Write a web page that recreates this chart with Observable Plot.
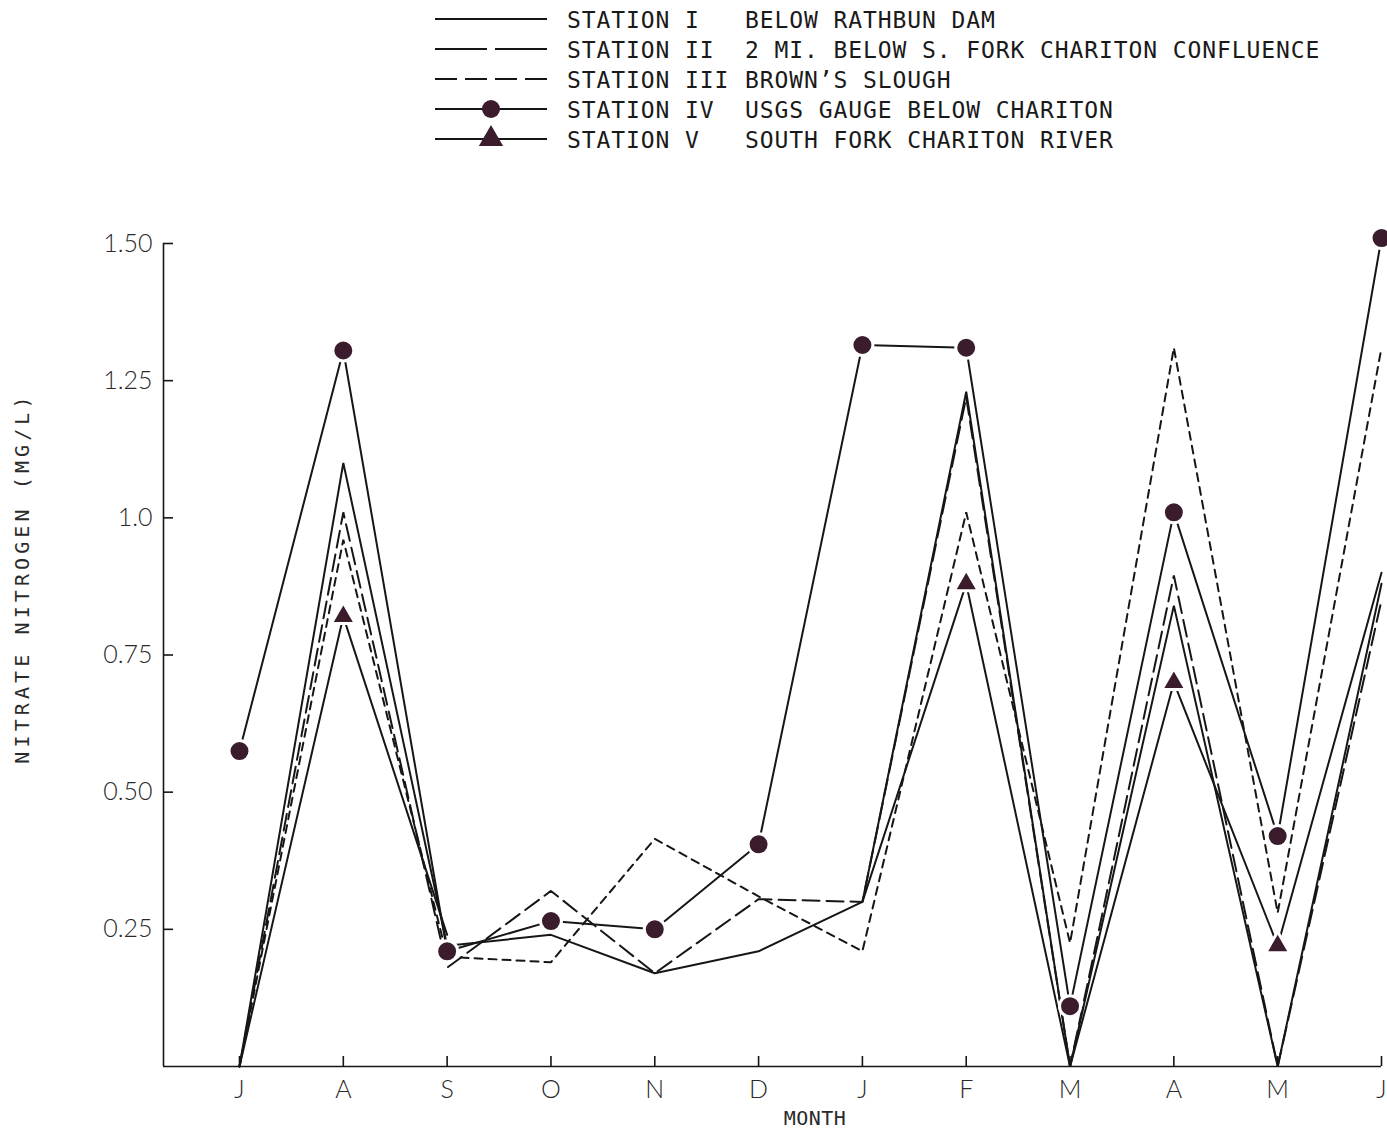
<!DOCTYPE html>
<html><head><meta charset="utf-8">
<script src="https://cdn.jsdelivr.net/npm/d3@7"></script>
<script src="https://cdn.jsdelivr.net/npm/@observablehq/plot@0.6"></script>
<style>
body{margin:0;background:#fff;}
#wrap{position:relative;width:1387px;height:1134px;overflow:hidden;background:#fff;}
#legend{position:absolute;left:0;top:0;}
#chart{position:absolute;left:0;top:170px;}
.lab{position:absolute;font-family:"DejaVu Sans Mono",monospace;color:#2a2a2a;white-space:nowrap;}
#ylab{left:22px;top:578px;font-size:20px;letter-spacing:4.1px;transform:translate(-50%,-50%) rotate(-90deg);}
#xlab{left:815px;top:1118px;font-size:20px;letter-spacing:0.5px;transform:translate(-50%,-50%);}
</style></head><body>
<div id="wrap">
<svg id="legend" width="1387" height="170"></svg>
<div id="chart"></div>
<div class="lab" id="ylab">NITRATE NITROGEN (MG/L)</div>
<div class="lab" id="xlab">MONTH</div>
</div>
<script>
// ---- data ----
const months = ["J","A","S","O","N","D","J","F","M","A","M","J"];
const stationNames = ["STATION I","STATION II","STATION III","STATION IV","STATION V"];
const stationPlaces = ["BELOW RATHBUN DAM","2 MI. BELOW S. FORK CHARITON CONFLUENCE","BROWN\u2019S SLOUGH","USGS GAUGE BELOW CHARITON","SOUTH FORK CHARITON RIVER"];
const station1 = [0, 1.10, 0.22, 0.24, 0.17, 0.21, 0.30, 1.23, 0, 0.84, 0, 0.88];
const station2 = [0, 1.01, 0.18, 0.32, 0.17, 0.305, 0.30, 1.22, 0, 0.895, 0, 0.85];
const station3 = [0, 0.96, 0.20, 0.19, 0.415, 0.31, 0.21, 1.01, 0.225, 1.31, 0.28, 1.31];
const station4 = [0.575, 1.305, 0.21, 0.265, 0.25, 0.405, 1.315, 1.31, 0.11, 1.01, 0.42, 1.51];
const station5 = [0, 0.82, 0.24, null, null, null, 0.30, 0.88, 0, 0.70, 0.22, 0.90];
const station5Marked = [false, true, false, false, false, false, false, true, false, true, true, false];
const yTicks = [0.25, 0.5, 0.75, 1.0, 1.25, 1.5];
const yTickLabels = ["0.25", "0.50", "0.75", "1.0", "1.25", "1.50"];

// ---- styles ----
const INK = "#161616";
const MARKER = "#3a1c2c";
const dashes = [null, "17,7", "8,6", null, null];
const legendDashes = [null, "52,8", "22,8", null, null];
const seriesValues = [station1, station2, station3, station4, station5];

const rows = [];
seriesValues.forEach((vals, s) => vals.forEach((v, i) => rows.push({station: stationNames[s], s, x: i, y: v})));

const xStart = -0.732;
const marks = [
  Plot.ruleY([0], {stroke: INK, strokeWidth: 1.6}),
  Plot.ruleX([xStart], {stroke: INK, strokeWidth: 1.6}),
  Plot.axisY(yTicks, {anchor: "left", tickSize: -10, tickPadding: 21, strokeWidth: 1.6, stroke: INK,
    tickFormat: d => yTickLabels[yTicks.indexOf(d)], fontSize: 25, fill: "#2a2a2a", label: null}),
  Plot.axisX(d3.range(months.length), {anchor: "bottom", tickSize: -10, tickPadding: 24, strokeWidth: 1.6, stroke: INK,
    tickFormat: i => months[i], fontSize: 25, fill: "#2a2a2a", label: null})
];
seriesValues.forEach((vals, s) => {
  marks.push(Plot.line(rows.filter(r => r.s === s), {x: "x", y: "y", stroke: INK, strokeWidth: 2,
    strokeDasharray: dashes[s], strokeLinejoin: "miter"}));
});
marks.push(Plot.dot(rows.filter(r => r.s === 3), {x: "x", y: "y", r: 10.5, fill: MARKER, stroke: "#fff", strokeWidth: 3}));
marks.push(Plot.dot(rows.filter(r => r.s === 4 && station5Marked[r.x]), {x: "x", y: "y", r: 9, symbol: "triangle", fill: MARKER, stroke: "#fff", strokeWidth: 3}));

const chart = Plot.plot({
  width: 1387,
  height: 964,
  marginLeft: 163,
  marginRight: 6,
  marginTop: 73,
  marginBottom: 68,
  x: {domain: [xStart, 11], axis: null},
  y: {domain: [0, 1.5], axis: null},
  style: {fontFamily: "Lato, 'Open Sans', sans-serif", fontSize: "25px", color: "#2a2a2a", background: "transparent", overflow: "visible"},
  marks
});
document.getElementById("chart").appendChild(chart);
chart.querySelectorAll("text").forEach(t => t.setAttribute("font-weight", "300"));

// ---- legend ----
const lg = d3.select("#legend");
stationNames.forEach((name, i) => {
  const y = 19 + 30 * i;
  const g = lg.append("g");
  g.append("line").attr("x1", 435).attr("x2", 547).attr("y1", y).attr("y2", y)
    .attr("stroke", INK).attr("stroke-width", 2.2)
    .attr("stroke-dasharray", legendDashes[i]);
  if (i === 3) g.append("circle").attr("cx", 491).attr("cy", y).attr("r", 9).attr("fill", MARKER);
  if (i === 4) g.append("path").attr("transform", `translate(491,${y})`)
    .attr("d", d3.symbol(d3.symbolTriangle, Math.PI * 81)()).attr("fill", MARKER);
  const tf = "'DejaVu Sans Mono', monospace";
  g.append("text").attr("x", 567).attr("y", y + 8.5).text(name)
    .attr("font-family", tf).attr("font-size", 23).attr("letter-spacing", 0.9).attr("fill", "#1a1a1a");
  g.append("text").attr("x", 745).attr("y", y + 8.5).text(stationPlaces[i])
    .attr("font-family", tf).attr("font-size", 23).attr("letter-spacing", 0.9).attr("fill", "#1a1a1a");
});
</script>
</body></html>
